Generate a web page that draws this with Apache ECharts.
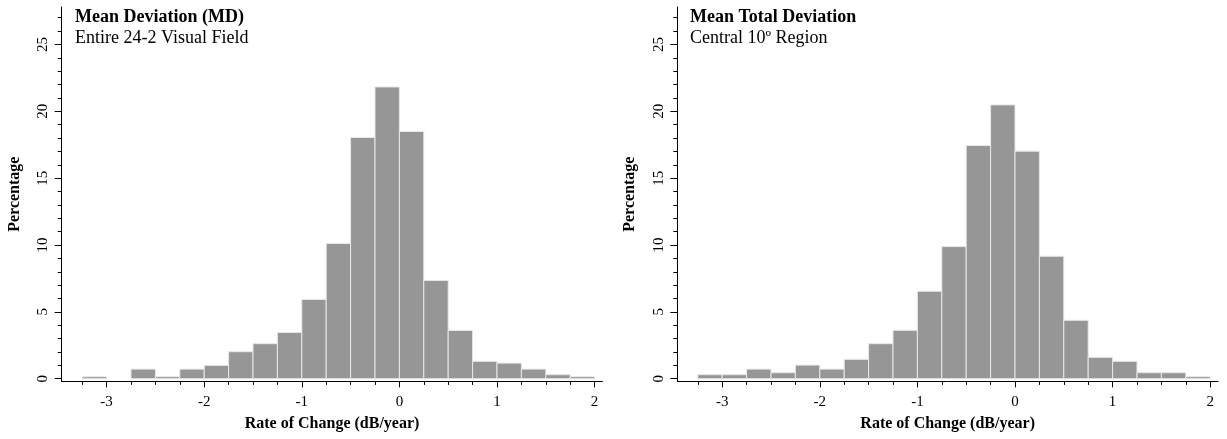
<!DOCTYPE html>
<html>
<head>
<meta charset="utf-8">
<script src="https://cdn.jsdelivr.net/npm/echarts@6/dist/echarts.min.js"></script>
<style>
html,body{margin:0;padding:0;background:#fff;}
#chart{width:1227px;height:439px;}
</style>
</head>
<body>
<div id="chart"></div>
<script>
// Histogram bin edges (dB/year), bins of 0.25
const BIN_EDGES = [-3.25, -3.0, -2.75, -2.5, -2.25, -2.0, -1.75, -1.5, -1.25, -1.0, -0.75, -0.5, -0.25, 0.0, 0.25, 0.5, 0.75, 1.0, 1.25, 1.5, 1.75, 2.0];

// Left panel: Mean Deviation (MD), Entire 24-2 Visual Field (percentage)
const MD_VALUES = [0.15, 0.0, 0.72, 0.15, 0.72, 1.0, 2.02, 2.62, 3.46, 5.93, 10.11, 18.04, 21.82, 18.49, 7.35, 3.61, 1.30, 1.17, 0.72, 0.30, 0.15];

// Right panel: Mean Total Deviation, Central 10º Region (percentage)
const MTD_VALUES = [0.30, 0.30, 0.72, 0.45, 1.02, 0.72, 1.45, 2.62, 3.62, 6.54, 9.88, 17.44, 20.48, 17.02, 9.16, 4.37, 1.60, 1.30, 0.45, 0.45, 0.15];

// Tick values / labels
const X_MAJOR_TICKS = [-3, -2, -1, 0, 1, 2];
const X_MINOR_TICKS = [-3.25, -3, -2.75, -2.5, -2.25, -2, -1.75, -1.5, -1.25, -1, -0.75, -0.5, -0.25, 0, 0.25, 0.5, 0.75, 1, 1.25, 1.5, 1.75, 2];
const Y_MAJOR_TICKS = [0, 5, 10, 15, 20, 25];
const Y_MINOR_TICKS = [0, 1, 2, 3, 4, 5, 6, 7, 8, 9, 10, 11, 12, 13, 14, 15, 16, 17, 18, 19, 20, 21, 22, 23, 24, 25, 26, 27];

const TITLES = ['Mean Deviation (MD)', 'Mean Total Deviation'];
const SUBTITLES = ['Entire 24-2 Visual Field', 'Central 10º Region'];
const X_NAME = 'Rate of Change (dB/year)';
const Y_NAME = 'Percentage';

const FONT = "'Liberation Serif', 'Times New Roman', serif";
const X_MIN = -3.46, X_MAX = 2.08, Y_MIN = -0.2, Y_MAX = 27.8;

function binData(values) {
  return values.map((v, i) => [BIN_EDGES[i], BIN_EDGES[i + 1], v]);
}

const grids = [
  {left: 61.7, top: 7, width: 540.7, bottom: 57.6},
  {left: 677.3, top: 7, width: 540.7, bottom: 57.6}
];

const xAxes = [], yAxes = [], series = [], titles = [];
const panels = [MD_VALUES, MTD_VALUES];

panels.forEach((vals, g) => {
  // main x axis
  xAxes.push({
    type: 'value', gridIndex: g, position: 'bottom', min: X_MIN, max: X_MAX,
    name: X_NAME, nameLocation: 'middle', nameGap: 34,
    nameTextStyle: {fontFamily: FONT, fontSize: 16, fontWeight: 'bold', color: '#000'},
    axisLine: {show: true, onZero: false, lineStyle: {color: '#000', width: 1}},
    axisTick: {show: true, length: 6, customValues: X_MAJOR_TICKS, lineStyle: {color: '#000'}},
    axisLabel: {show: true, customValues: X_MAJOR_TICKS, margin: 13, fontFamily: FONT, fontSize: 15, color: '#000',
      formatter: v => String(Math.round(v))},
    splitLine: {show: false}
  });
  // minor x ticks
  xAxes.push({
    type: 'value', gridIndex: g, position: 'bottom', min: X_MIN, max: X_MAX,
    axisLine: {show: false, onZero: false},
    axisTick: {show: true, length: 3.5, customValues: X_MINOR_TICKS, lineStyle: {color: '#000'}},
    axisLabel: {show: false},
    splitLine: {show: false}
  });
  // main y axis
  yAxes.push({
    type: 'value', gridIndex: g, position: 'left', min: Y_MIN, max: Y_MAX,
    name: Y_NAME, nameLocation: 'middle', nameGap: 39,
    nameTextStyle: {fontFamily: FONT, fontSize: 16, fontWeight: 'bold', color: '#000'},
    axisLine: {show: true, onZero: false, lineStyle: {color: '#000', width: 1}},
    axisTick: {show: true, length: 7, customValues: Y_MAJOR_TICKS, lineStyle: {color: '#000'}},
    axisLabel: {show: true, customValues: Y_MAJOR_TICKS, rotate: 90, margin: 11, fontFamily: FONT, fontSize: 15, color: '#000',
      formatter: v => String(Math.round(v))},
    splitLine: {show: false}
  });
  // minor y ticks
  yAxes.push({
    type: 'value', gridIndex: g, position: 'left', min: Y_MIN, max: Y_MAX,
    axisLine: {show: false, onZero: false},
    axisTick: {show: true, length: 4, customValues: Y_MINOR_TICKS, lineStyle: {color: '#000'}},
    axisLabel: {show: false},
    splitLine: {show: false}
  });

  series.push({
    type: 'custom',
    xAxisIndex: g * 2, yAxisIndex: g * 2,
    data: binData(vals),
    encode: {x: [0, 1], y: 2},
    renderItem: function (params, api) {
      const v = api.value(2);
      if (!(v > 0)) return null;
      const p0 = api.coord([api.value(0), v]);
      const p1 = api.coord([api.value(1), 0]);
      return {
        type: 'rect',
        shape: {x: p0[0], y: p0[1], width: p1[0] - p0[0], height: p1[1] - p0[1]},
        style: {fill: '#969696', stroke: '#e8e8e8', lineWidth: 1}
      };
    },
    silent: true
  });

  titles.push({
    text: TITLES[g], subtext: SUBTITLES[g],
    left: g === 0 ? 75 : 690, top: 8, padding: 0, itemGap: 3,
    textStyle: {fontFamily: FONT, fontSize: 18, fontWeight: 'bold', color: '#000'},
    subtextStyle: {fontFamily: FONT, fontSize: 18, fontWeight: 'normal', color: '#000'}
  });
});

const chart = echarts.init(document.getElementById('chart'), null, {renderer: 'canvas'});
chart.setOption({
  backgroundColor: '#fff',
  animation: false,
  textStyle: {fontFamily: FONT},
  title: titles,
  grid: grids,
  xAxis: xAxes,
  yAxis: yAxes,
  series: series
});
</script>
</body>
</html>
